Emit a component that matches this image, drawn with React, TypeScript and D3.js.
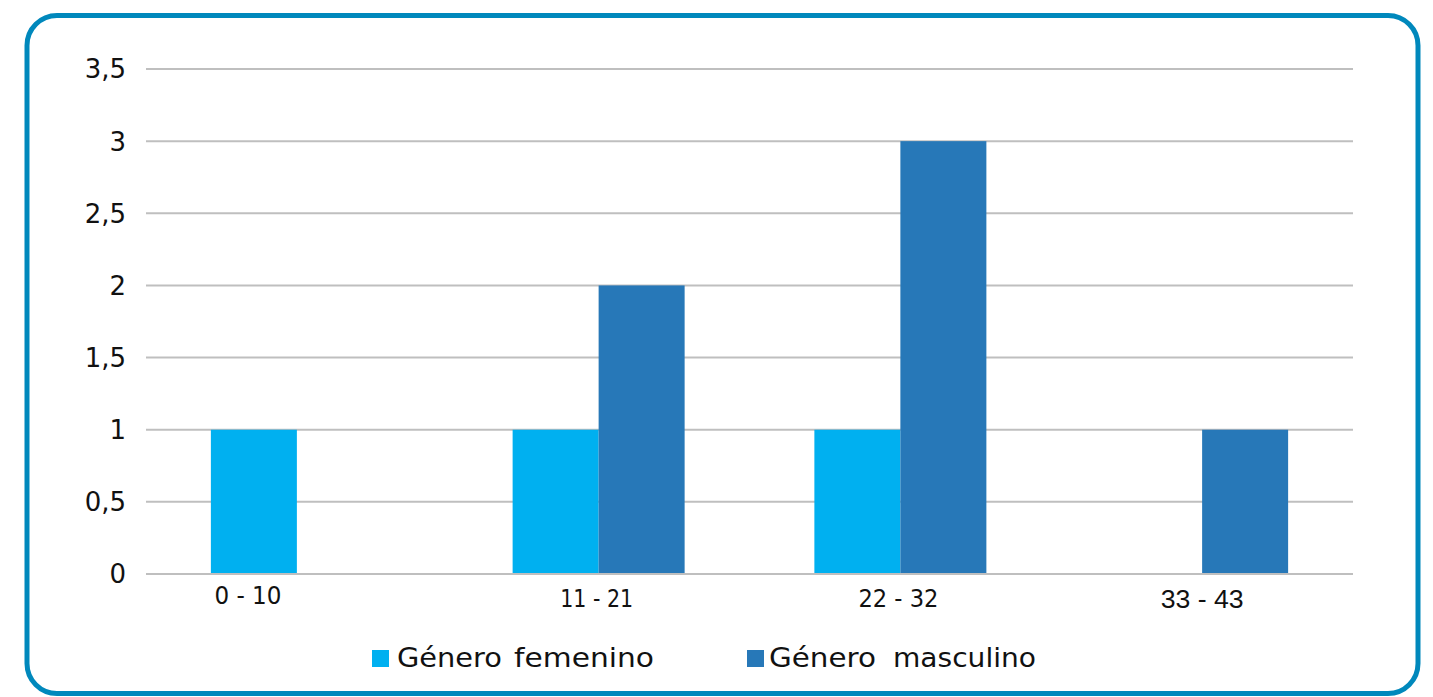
import React from "react";
import * as d3 from "d3";

const categories = ["0 - 10", "11 - 21", "22 - 32", "33 - 43"];
const seriesNames = ["Género femenino", "Género masculino"];
const femenino = [1, 1, 1, 0];
const masculino = [0, 2, 3, 1];
const yTicks = [0, 0.5, 1, 1.5, 2, 2.5, 3, 3.5];
const colors = ["#00B0F0", "#2778B8"];

export default function App() {
  const W = 1433, H = 697;
  const left = 146, right = 1353, top = 69, bottom = 574;
  const x = d3.scaleBand<string>().domain(categories).range([left, right]).paddingInner(0).paddingOuter(0);
  const y = d3.scaleLinear().domain([0, 3.5]).range([bottom, top]);
  const barW = x.bandwidth() * 0.285;
  const series = [femenino, masculino];
  const fmt = (v: number) => String(v).replace(".", ",");
  const geo = "'DejaVu Sans', sans-serif";
  const arial = "'Liberation Sans', Arial, sans-serif";
  const labelStyle = [
    { dx: -49, y: 604, font: geo, size: 24, len: 67 },
    { dx: -2, y: 607, font: geo, size: 24, len: 73 },
    { dx: -2, y: 607, font: geo, size: 24, len: 80 },
    { dx: 0, y: 608, font: arial, size: 26, len: 83 },
  ];
  const legendX = [372, 747];
  const wordOffsets = [[25, 142], [22, 146]];
  const wordLens = [[105, 140], [107, 143]];
  return (
    <svg width={W} height={H} style={{ position: "absolute", left: 0, top: 0 }}>
      <rect x={0} y={0} width={W} height={H} fill="#fff" />
      <rect x={27} y={15.5} width={1391} height={678} rx={30} ry={30} fill="none" stroke="#0088BC" strokeWidth={5} />
      {yTicks.map((t) => (
        <g key={t}>
          <line x1={left} x2={right} y1={y(t)} y2={y(t)} stroke="#BFBFBF" strokeWidth={2} />
          <text x={126} y={y(t)} dy="0.36em" textAnchor="end" fontFamily={geo} fontSize={26} fill="#111">{fmt(t)}</text>
        </g>
      ))}
      {categories.map((c, i) => {
        const cx = (x(c) as number) + x.bandwidth() / 2;
        const ls = labelStyle[i];
        return (
          <g key={c}>
            {series.map((s, j) => s[i] > 0 ? (
              <rect key={j} x={cx - barW + j * barW} y={y(s[i])} width={barW} height={y(0) - y(s[i])} fill={colors[j]} />
            ) : null)}
            <text x={cx + ls.dx} y={ls.y} textAnchor="middle" fontFamily={ls.font} fontSize={ls.size} textLength={ls.len} lengthAdjust="spacingAndGlyphs" fill="#111">{c}</text>
          </g>
        );
      })}
      <line x1={left} x2={right} y1={y(0)} y2={y(0)} stroke="#BFBFBF" strokeWidth={2} />
      {seriesNames.map((n, j) => {
        const lx = legendX[j];
        const words = n.split(" ");
        return (
          <g key={n}>
            <rect x={lx} y={650} width={17} height={17} fill={colors[j]} />
            {words.map((w, k) => (
              <text key={k} x={lx + wordOffsets[j][k]} y={667} fontFamily={geo} fontSize={27} textLength={wordLens[j][k]} lengthAdjust="spacingAndGlyphs" fill="#111">{w}</text>
            ))}
          </g>
        );
      })}
    </svg>
  );
}
